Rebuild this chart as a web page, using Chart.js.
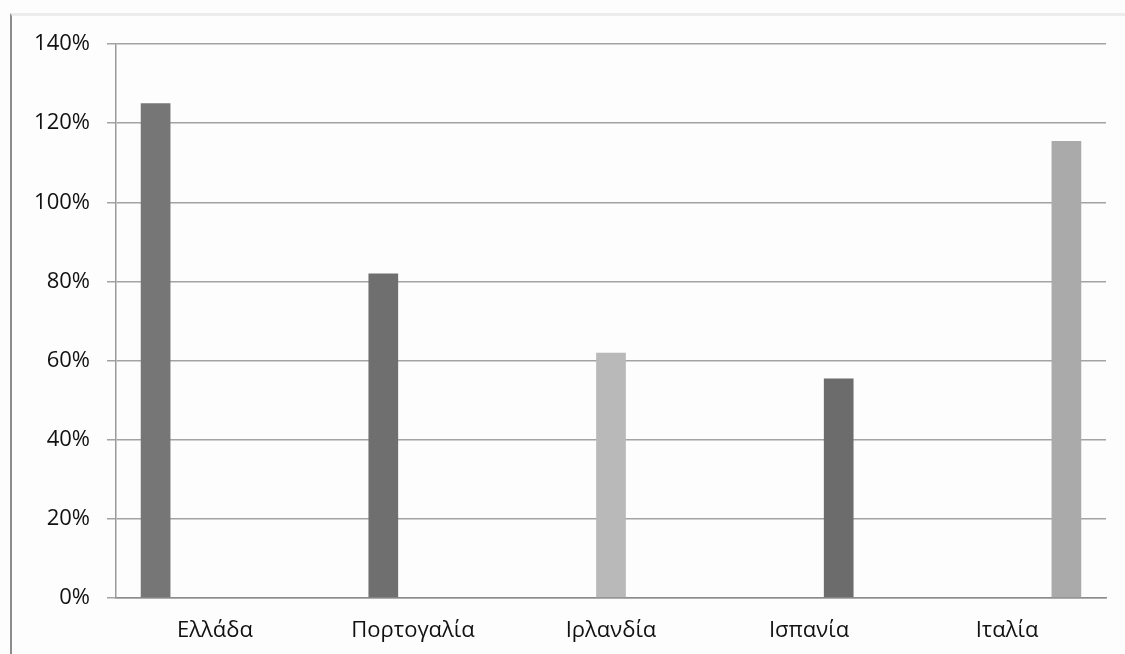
<!DOCTYPE html>
<html lang="el">
<head>
    <meta charset="UTF-8">
    <title>Chart</title>
    <style>
        body {
            margin: 0;
            padding: 0;
            background: #fdfdfd;
        }

        .frame {
            position: absolute;
            left: 10px;
            top: 13px;
            width: 1115px;
            height: 641px;
            border-left: 2px solid #8c8c8c;
            border-top: 3px solid #ececec;
        }

        .chart-wrap {
            position: absolute;
            left: 0;
            top: 0;
            width: 1125px;
            height: 654px;
        }
    </style>
</head>
<body>
    <div class="frame"></div>
    <div class="chart-wrap">
        <canvas id="chart1" width="1125" height="654"></canvas>
    </div>

    <script src="https://cdn.jsdelivr.net/npm/chart.js@4/dist/chart.umd.min.js"></script>
    <script>
    // data
    var categories = ['Ελλάδα', 'Πορτογαλία', 'Ιρλανδία', 'Ισπανία', 'Ιταλία'];
    var values = [125, 82, 62, 55.5, 115.5];
    var yTicks = [0, 20, 40, 60, 80, 100, 120, 140];

    var barColors = ['#767676', '#6f6f6f', '#b9b9b9', '#6c6c6c', '#aaaaaa'];

    (function() {
        'use strict';

        var ctx = document.getElementById('chart1').getContext('2d');
        var fontFamily = '"Open Sans", "Noto Sans", sans-serif';

        // each country is its own series, so the bars step across the group like in excel
        var datasets = categories.map(function(name, i) {
            return {
                label: name,
                data: values.map(function(v, j) { return j === i ? v : null; }),
                backgroundColor: barColors[i],
                borderWidth: 0,
                barPercentage: 1.0,
                categoryPercentage: 0.75
            };
        });

        new Chart(ctx, {
            type: 'bar',
            data: {
                labels: categories,
                datasets: datasets
            },
            options: {
                responsive: false,
                animation: false,
                layout: {
                    padding: { left: 0, right: 19, top: 44, bottom: 0 }
                },
                plugins: {
                    legend: { display: false },
                    tooltip: { enabled: false }
                },
                scales: {
                    x: {
                        grid: { display: false },
                        border: { display: true, color: '#8c8c8c', width: 1.5 },
                        ticks: {
                            color: '#111',
                            padding: 12,
                            font: { family: fontFamily, size: 22 }
                        },
                        afterFit: function(scale) { scale.height = 56; }
                    },
                    y: {
                        min: 0,
                        max: 140,
                        afterBuildTicks: function(scale) {
                            scale.ticks = yTicks.map(function(v) { return { value: v }; });
                        },
                        grid: {
                            color: '#a3a3a3',
                            lineWidth: 1.5,
                            tickLength: 9,
                            drawTicks: true
                        },
                        border: { display: true, color: '#9a9a9a', width: 1.5 },
                        ticks: {
                            color: '#111',
                            padding: 17,
                            font: { family: fontFamily, size: 22 },
                            callback: function(v) { return v + '%'; }
                        },
                        afterFit: function(scale) { scale.width = 116; }
                    }
                }
            }
        });
    })();
    </script>
</body>
</html>
